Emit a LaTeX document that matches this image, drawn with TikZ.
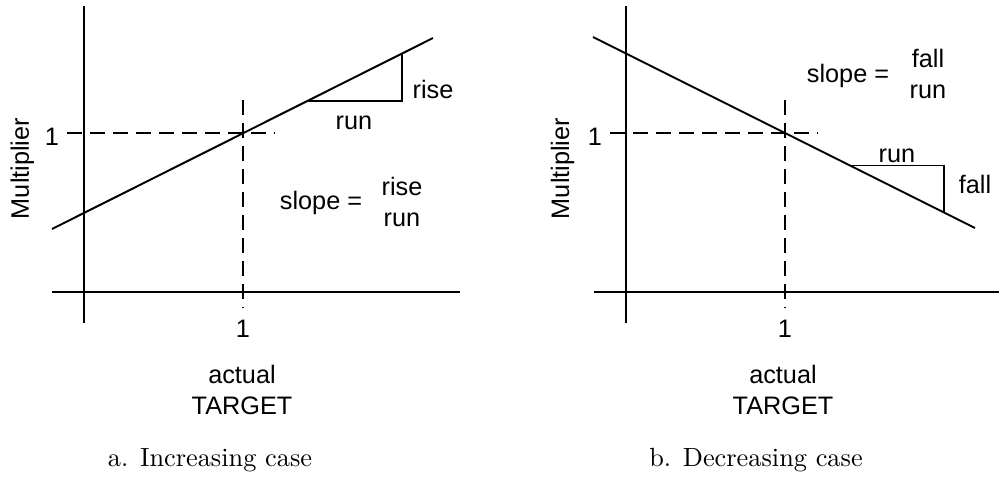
\documentclass[tikz,border=0pt]{standalone}
\usepackage{fontspec}
\setsansfont{Liberation Sans}
\usetikzlibrary{positioning}

\begin{document}
\begin{tikzpicture}[x=0.38pt, y=-0.38pt,
  lbl/.style={font=\sffamily\fontsize{9.6}{11.8}\selectfont, inner sep=0pt, align=center},
  capt/.style={font=\rmfamily\fontsize{10}{12}\selectfont, inner sep=0pt, anchor=base},
  axis/.style={line width=1.1pt},
  curve/.style={line width=0.75pt},
  guide/.style={line width=0.45pt, dash pattern=on 5.7pt off 3.04pt},
  tri/.style={line width=0.4pt}]
\useasboundingbox (0,0) rectangle (999,476);
% Panel a: the multiplier rises with actual/TARGET.
\coordinate (a-ytop) at (84,6);    \coordinate (a-ybot) at (84,323);
\coordinate (a-xl) at (52,292);    \coordinate (a-xr) at (460,292);
\coordinate (a-lo) at (52,229);    \coordinate (a-hi) at (433,38);
\coordinate (a-hl) at (67,133);    \coordinate (a-hr) at (275,133);
\coordinate (a-vt) at (243,100);   \coordinate (a-vb) at (243,308);
\coordinate (a-t1) at (307,101);   \coordinate (a-t2) at (402,101);
\coordinate (a-t3) at (402,53.5);
\draw[axis] (a-ytop) -- (a-ybot);
\draw[axis] (a-xl) -- (a-xr);
\draw[guide] (a-hl) -- (a-hr);
\draw[guide] (a-vt) -- (a-vb);
\draw[curve] (a-lo) -- (a-hi);
\draw[tri] (a-t1) -- (a-t2) -- (a-t3);
\node[lbl, anchor=base] (a-oney) at (52,145) {1};
\node[lbl, anchor=base] (a-onex) at (243,337) {1};
\node[lbl, anchor=base, rotate=90] (a-ylab) at (29,168.5) {Multiplier};
\node[lbl] (a-xlab) at (242,390) {actual\\TARGET};
\node[lbl, anchor=base] (a-rise) at (433,98) {rise};
\node[lbl, anchor=base] (a-run) at (354,129) {run};
\node[lbl, anchor=base] (a-slope) at (321,209) {slope =};
\node[lbl] (a-frac) at (402,202) {rise\\run};
\node[capt] (a-cap) at (210,466) {a. Increasing case};
% Panel b: the multiplier falls with actual/TARGET.
\coordinate (b-ytop) at (626,6);   \coordinate (b-ybot) at (626,323);
\coordinate (b-xl) at (594,292);   \coordinate (b-xr) at (999,292);
\coordinate (b-hi) at (593,37);    \coordinate (b-lo) at (975,228);
\coordinate (b-hl) at (610,133);   \coordinate (b-hr) at (818,133);
\coordinate (b-vt) at (785,100);   \coordinate (b-vb) at (785,308);
\coordinate (b-t1) at (850,165.5); \coordinate (b-t2) at (944,165.5);
\coordinate (b-t3) at (944,212.5);
\draw[axis] (b-ytop) -- (b-ybot);
\draw[axis] (b-xl) -- (b-xr);
\draw[guide] (b-hl) -- (b-hr);
\draw[guide] (b-vt) -- (b-vb);
\draw[curve] (b-hi) -- (b-lo);
\draw[tri] (b-t1) -- (b-t2) -- (b-t3);
\node[lbl, anchor=base] (b-oney) at (595,145) {1};
\node[lbl, anchor=base] (b-onex) at (785,337) {1};
\node[lbl, anchor=base, rotate=90] (b-ylab) at (569,168.5) {Multiplier};
\node[lbl] (b-xlab) at (783,390) {actual\\TARGET};
\node[lbl, anchor=base] (b-run) at (897,162) {run};
\node[lbl, anchor=base] (b-fall) at (975,193) {fall};
\node[lbl, anchor=base] (b-slope) at (848,82) {slope =};
\node[lbl] (b-frac) at (928,74) {fall\\run};
\node[capt] (b-cap) at (756,466) {b. Decreasing case};
\end{tikzpicture}
\end{document}
